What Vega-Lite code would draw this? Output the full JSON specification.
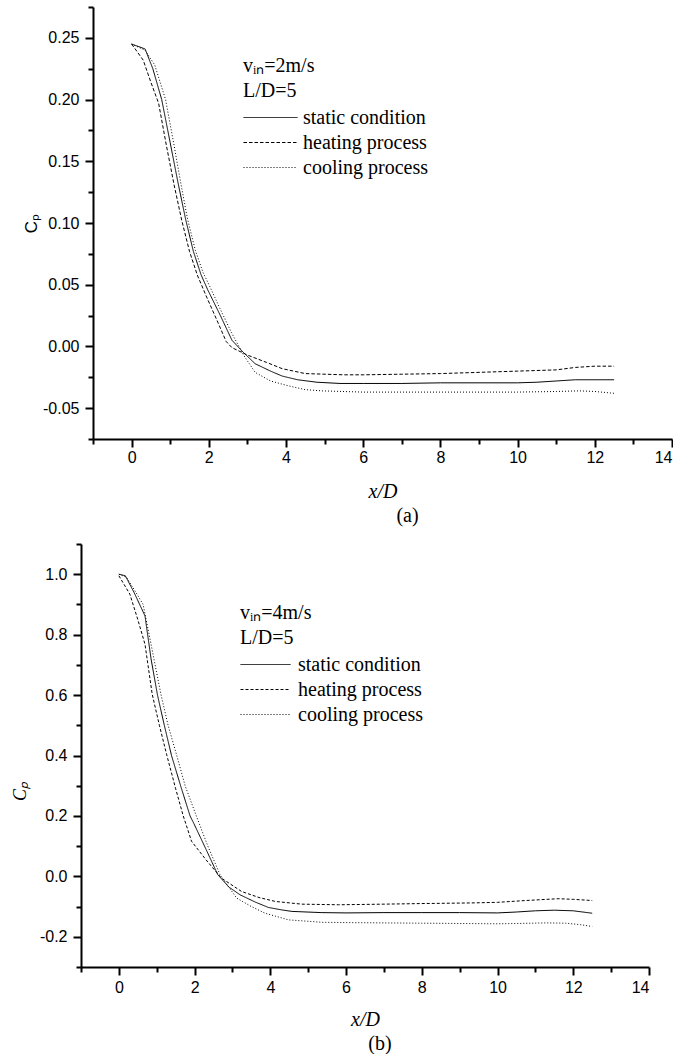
{
  "$schema": "https://vega.github.io/schema/vega-lite/v6.json",
  "padding": {"left": 0, "top": 6, "right": 0, "bottom": 0},
  "background": "white",
  "config": {
    "view": {"stroke": null},
    "locale": {"number": {"decimal": ".", "thousands": ",", "grouping": [3], "currency": ["$", ""], "minus": "-"}},
    "axis": {"grid": false, "domainColor": "black", "tickColor": "black", "labelColor": "black", "titleColor": "black", "domainWidth": 2, "tickWidth": 2, "labelFont": "Liberation Sans", "labelFontSize": 16, "titleFontWeight": "normal"},
    "title": {"font": "Liberation Serif", "fontSize": 20, "fontWeight": "normal", "color": "black"}
  },
  "datasets": {
    "a": [
      {"x": 0, "cp": 0.245, "series": "static condition"},
      {"x": 0.35, "cp": 0.241, "series": "static condition"},
      {"x": 0.55, "cp": 0.225, "series": "static condition"},
      {"x": 0.78, "cp": 0.2, "series": "static condition"},
      {"x": 1.0, "cp": 0.165, "series": "static condition"},
      {"x": 1.2, "cp": 0.133, "series": "static condition"},
      {"x": 1.4, "cp": 0.103, "series": "static condition"},
      {"x": 1.6, "cp": 0.077, "series": "static condition"},
      {"x": 1.8, "cp": 0.058, "series": "static condition"},
      {"x": 1.97, "cp": 0.046, "series": "static condition"},
      {"x": 2.3, "cp": 0.025, "series": "static condition"},
      {"x": 2.6, "cp": 0.005, "series": "static condition"},
      {"x": 2.9, "cp": -0.005, "series": "static condition"},
      {"x": 3.2, "cp": -0.014, "series": "static condition"},
      {"x": 3.6, "cp": -0.02, "series": "static condition"},
      {"x": 3.9, "cp": -0.024, "series": "static condition"},
      {"x": 4.3, "cp": -0.027, "series": "static condition"},
      {"x": 4.8, "cp": -0.029, "series": "static condition"},
      {"x": 5.4, "cp": -0.03, "series": "static condition"},
      {"x": 6, "cp": -0.03, "series": "static condition"},
      {"x": 7, "cp": -0.03, "series": "static condition"},
      {"x": 8, "cp": -0.0295, "series": "static condition"},
      {"x": 9, "cp": -0.0295, "series": "static condition"},
      {"x": 10, "cp": -0.0295, "series": "static condition"},
      {"x": 10.5, "cp": -0.029, "series": "static condition"},
      {"x": 11, "cp": -0.028, "series": "static condition"},
      {"x": 11.5, "cp": -0.027, "series": "static condition"},
      {"x": 12, "cp": -0.027, "series": "static condition"},
      {"x": 12.5, "cp": -0.027, "series": "static condition"},
      {"x": 0, "cp": 0.245, "series": "heating process"},
      {"x": 0.3, "cp": 0.232, "series": "heating process"},
      {"x": 0.5, "cp": 0.214, "series": "heating process"},
      {"x": 0.7, "cp": 0.197, "series": "heating process"},
      {"x": 0.9, "cp": 0.163, "series": "heating process"},
      {"x": 1.1, "cp": 0.131, "series": "heating process"},
      {"x": 1.3, "cp": 0.102, "series": "heating process"},
      {"x": 1.5, "cp": 0.077, "series": "heating process"},
      {"x": 1.7, "cp": 0.058, "series": "heating process"},
      {"x": 1.93, "cp": 0.041, "series": "heating process"},
      {"x": 2.2, "cp": 0.022, "series": "heating process"},
      {"x": 2.45, "cp": 0.004, "series": "heating process"},
      {"x": 2.6, "cp": -0.001, "series": "heating process"},
      {"x": 3.0, "cp": -0.007, "series": "heating process"},
      {"x": 3.5, "cp": -0.013, "series": "heating process"},
      {"x": 3.9, "cp": -0.018, "series": "heating process"},
      {"x": 4.5, "cp": -0.022, "series": "heating process"},
      {"x": 5.5, "cp": -0.023, "series": "heating process"},
      {"x": 6, "cp": -0.023, "series": "heating process"},
      {"x": 7, "cp": -0.0225, "series": "heating process"},
      {"x": 8, "cp": -0.022, "series": "heating process"},
      {"x": 9, "cp": -0.021, "series": "heating process"},
      {"x": 10, "cp": -0.02, "series": "heating process"},
      {"x": 11, "cp": -0.019, "series": "heating process"},
      {"x": 11.5, "cp": -0.017, "series": "heating process"},
      {"x": 12, "cp": -0.016, "series": "heating process"},
      {"x": 12.5, "cp": -0.016, "series": "heating process"},
      {"x": 0, "cp": 0.245, "series": "cooling process"},
      {"x": 0.35, "cp": 0.24, "series": "cooling process"},
      {"x": 0.6, "cp": 0.228, "series": "cooling process"},
      {"x": 0.88, "cp": 0.2, "series": "cooling process"},
      {"x": 1.1, "cp": 0.163, "series": "cooling process"},
      {"x": 1.27, "cp": 0.133, "series": "cooling process"},
      {"x": 1.45, "cp": 0.103, "series": "cooling process"},
      {"x": 1.65, "cp": 0.078, "series": "cooling process"},
      {"x": 1.85, "cp": 0.06, "series": "cooling process"},
      {"x": 2.02, "cp": 0.049, "series": "cooling process"},
      {"x": 2.3, "cp": 0.03, "series": "cooling process"},
      {"x": 2.59, "cp": 0.011, "series": "cooling process"},
      {"x": 2.9, "cp": -0.007, "series": "cooling process"},
      {"x": 3.2, "cp": -0.021, "series": "cooling process"},
      {"x": 3.6, "cp": -0.028, "series": "cooling process"},
      {"x": 4.07, "cp": -0.032, "series": "cooling process"},
      {"x": 4.5, "cp": -0.035, "series": "cooling process"},
      {"x": 4.93, "cp": -0.036, "series": "cooling process"},
      {"x": 6, "cp": -0.037, "series": "cooling process"},
      {"x": 7, "cp": -0.037, "series": "cooling process"},
      {"x": 8, "cp": -0.037, "series": "cooling process"},
      {"x": 9, "cp": -0.037, "series": "cooling process"},
      {"x": 10, "cp": -0.037, "series": "cooling process"},
      {"x": 11, "cp": -0.0365, "series": "cooling process"},
      {"x": 11.6, "cp": -0.036, "series": "cooling process"},
      {"x": 12, "cp": -0.0365, "series": "cooling process"},
      {"x": 12.5, "cp": -0.038, "series": "cooling process"}
    ],
    "b": [
      {"x": 0, "cp": 1.0, "series": "static condition"},
      {"x": 0.17, "cp": 0.995, "series": "static condition"},
      {"x": 0.4, "cp": 0.94, "series": "static condition"},
      {"x": 0.69, "cp": 0.862, "series": "static condition"},
      {"x": 0.85, "cp": 0.72, "series": "static condition"},
      {"x": 1.02, "cp": 0.6, "series": "static condition"},
      {"x": 1.2, "cp": 0.5, "series": "static condition"},
      {"x": 1.39, "cp": 0.4, "series": "static condition"},
      {"x": 1.63, "cp": 0.3, "series": "static condition"},
      {"x": 1.88, "cp": 0.2, "series": "static condition"},
      {"x": 1.98, "cp": 0.175, "series": "static condition"},
      {"x": 2.3, "cp": 0.09, "series": "static condition"},
      {"x": 2.61, "cp": 0.006, "series": "static condition"},
      {"x": 2.9, "cp": -0.035, "series": "static condition"},
      {"x": 3.2, "cp": -0.061, "series": "static condition"},
      {"x": 3.6, "cp": -0.085, "series": "static condition"},
      {"x": 3.95, "cp": -0.103, "series": "static condition"},
      {"x": 4.3, "cp": -0.111, "series": "static condition"},
      {"x": 4.57, "cp": -0.116, "series": "static condition"},
      {"x": 5.36, "cp": -0.12, "series": "static condition"},
      {"x": 6, "cp": -0.121, "series": "static condition"},
      {"x": 7, "cp": -0.12, "series": "static condition"},
      {"x": 8, "cp": -0.12, "series": "static condition"},
      {"x": 9, "cp": -0.12, "series": "static condition"},
      {"x": 10, "cp": -0.121, "series": "static condition"},
      {"x": 10.5, "cp": -0.118, "series": "static condition"},
      {"x": 11, "cp": -0.114, "series": "static condition"},
      {"x": 11.5, "cp": -0.112, "series": "static condition"},
      {"x": 12, "cp": -0.114, "series": "static condition"},
      {"x": 12.5, "cp": -0.122, "series": "static condition"},
      {"x": 0, "cp": 0.995, "series": "heating process"},
      {"x": 0.29, "cp": 0.934, "series": "heating process"},
      {"x": 0.5, "cp": 0.85, "series": "heating process"},
      {"x": 0.69, "cp": 0.768, "series": "heating process"},
      {"x": 0.88, "cp": 0.603, "series": "heating process"},
      {"x": 1.07, "cp": 0.5, "series": "heating process"},
      {"x": 1.26, "cp": 0.404, "series": "heating process"},
      {"x": 1.5, "cp": 0.29, "series": "heating process"},
      {"x": 1.7, "cp": 0.2, "series": "heating process"},
      {"x": 1.92, "cp": 0.116, "series": "heating process"},
      {"x": 2.3, "cp": 0.055, "series": "heating process"},
      {"x": 2.71, "cp": -0.006, "series": "heating process"},
      {"x": 3.24, "cp": -0.05, "series": "heating process"},
      {"x": 3.7, "cp": -0.07, "series": "heating process"},
      {"x": 4.13, "cp": -0.083, "series": "heating process"},
      {"x": 4.83, "cp": -0.092, "series": "heating process"},
      {"x": 5.8, "cp": -0.094, "series": "heating process"},
      {"x": 7, "cp": -0.092, "series": "heating process"},
      {"x": 8, "cp": -0.09, "series": "heating process"},
      {"x": 9.3, "cp": -0.088, "series": "heating process"},
      {"x": 10, "cp": -0.086, "series": "heating process"},
      {"x": 10.74, "cp": -0.08, "series": "heating process"},
      {"x": 11.6, "cp": -0.074, "series": "heating process"},
      {"x": 12, "cp": -0.076, "series": "heating process"},
      {"x": 12.5, "cp": -0.08, "series": "heating process"},
      {"x": 0, "cp": 1.0, "series": "cooling process"},
      {"x": 0.2, "cp": 0.99, "series": "cooling process"},
      {"x": 0.45, "cp": 0.94, "series": "cooling process"},
      {"x": 0.64, "cp": 0.9, "series": "cooling process"},
      {"x": 0.8, "cp": 0.8, "series": "cooling process"},
      {"x": 1.11, "cp": 0.603, "series": "cooling process"},
      {"x": 1.3, "cp": 0.5, "series": "cooling process"},
      {"x": 1.52, "cp": 0.404, "series": "cooling process"},
      {"x": 1.75, "cp": 0.3, "series": "cooling process"},
      {"x": 2.03, "cp": 0.205, "series": "cooling process"},
      {"x": 2.35, "cp": 0.1, "series": "cooling process"},
      {"x": 2.67, "cp": 0.006, "series": "cooling process"},
      {"x": 3.11, "cp": -0.072, "series": "cooling process"},
      {"x": 3.5, "cp": -0.1, "series": "cooling process"},
      {"x": 3.86, "cp": -0.122, "series": "cooling process"},
      {"x": 4.48, "cp": -0.144, "series": "cooling process"},
      {"x": 5.36, "cp": -0.152, "series": "cooling process"},
      {"x": 6, "cp": -0.153, "series": "cooling process"},
      {"x": 7, "cp": -0.154, "series": "cooling process"},
      {"x": 8, "cp": -0.155, "series": "cooling process"},
      {"x": 9, "cp": -0.156, "series": "cooling process"},
      {"x": 10, "cp": -0.157, "series": "cooling process"},
      {"x": 10.5, "cp": -0.156, "series": "cooling process"},
      {"x": 11.3, "cp": -0.154, "series": "cooling process"},
      {"x": 11.8, "cp": -0.155, "series": "cooling process"},
      {"x": 12.2, "cp": -0.16, "series": "cooling process"},
      {"x": 12.5, "cp": -0.166, "series": "cooling process"}
    ]
  },
  "spacing": 17,
  "resolve": {"scale": {"strokeDash": "independent"}, "legend": {"strokeDash": "independent"}},
  "vconcat": [
    {"spacing": 0, "hconcat": [
    {"width": 22, "height": 1, "data": {"values": []}, "mark": {"type": "point"}},
    {
      "width": 579,
      "height": 432,
      "title": {"text": "(a)", "orient": "bottom", "dx": 25, "offset": 5},
      "layer": [
        {
          "data": {"name": "a"},
          "mark": {"type": "line", "color": "black", "strokeWidth": 1},
          "encoding": {
            "x": {"field": "x", "type": "quantitative", "scale": {"domain": [-1, 14], "nice": false, "zero": false},
              "axis": {"orient": "bottom", "values": [0, 2, 4, 6, 8, 10, 12, 14], "format": "d", "tickSize": 8, "labelPadding": 2, "title": "x/D", "titleFont": "Liberation Serif", "titleFontStyle": "italic", "titleFontSize": 20, "titlePadding": 16}},
            "y": {"field": "cp", "type": "quantitative", "scale": {"domain": [-0.075, 0.275], "nice": false, "zero": false},
              "axis": {"orient": "left", "values": [-0.05, 0, 0.05, 0.1, 0.15, 0.2, 0.25], "format": ".2f", "tickSize": 8, "labelPadding": 6, "title": "Cₚ", "titleFont": "Liberation Sans", "titleFontSize": 17, "titlePadding": 2}},
            "strokeDash": {"field": "series", "type": "nominal",
              "scale": {"domain": ["static condition", "heating process", "cooling process"], "range": [[1, 0], [3.5, 2], [1, 2]]},
              "legend": {"orient": "none", "legendX": 243, "legendY": 49, "padding": 0,
                "title": ["vᵢₙ=2m/s", "L/D=5"], "titleFont": "Liberation Serif", "titleFontSize": 20, "titleFontWeight": "normal", "titleColor": "black", "titleLineHeight": 25, "titlePadding": 6, "titleLimit": 400,
                "labelFont": "Liberation Serif", "labelFontSize": 20, "labelColor": "black", "labelOffset": 39, "labelLimit": 400,
                "symbolType": "M-1,0H4.4", "symbolSize": 400, "symbolStrokeWidth": 1, "symbolStrokeColor": "black", "rowPadding": 4}}
          }
        },
        {
          "data": {"name": "a"},
          "mark": {"type": "line", "opacity": 0},
          "encoding": {
            "x": {"field": "x", "type": "quantitative", "axis": {"orient": "bottom", "values": [-1, 1, 3, 5, 7, 9, 11, 13], "labels": false, "domain": false, "tickSize": 5, "title": null}},
            "y": {"field": "cp", "type": "quantitative", "axis": {"orient": "left", "values": [-0.075, -0.025, 0.025, 0.075, 0.125, 0.175, 0.225, 0.275], "labels": false, "domain": false, "tickSize": 5, "title": null}},
            "detail": {"field": "series"}
          }
        }
      ],
      "resolve": {"axis": {"x": "independent", "y": "independent"}}
    }]},
    {"spacing": 0, "hconcat": [
    {"width": 11, "height": 1, "data": {"values": []}, "mark": {"type": "point"}},
    {
      "width": 568,
      "height": 423,
      "title": {"text": "(b)", "orient": "bottom", "dx": 15, "offset": 5},
      "layer": [
        {
          "data": {"name": "b"},
          "mark": {"type": "line", "color": "black", "strokeWidth": 1},
          "encoding": {
            "x": {"field": "x", "type": "quantitative", "scale": {"domain": [-1, 14], "nice": false, "zero": false},
              "axis": {"orient": "bottom", "values": [0, 2, 4, 6, 8, 10, 12, 14], "format": "d", "tickSize": 8, "labelPadding": 4, "title": "x/D", "titleFont": "Liberation Serif", "titleFontStyle": "italic", "titleFontSize": 20, "titlePadding": 14}},
            "y": {"field": "cp", "type": "quantitative", "scale": {"domain": [-0.3, 1.1], "nice": false, "zero": false},
              "axis": {"orient": "left", "values": [-0.2, 0, 0.2, 0.4, 0.6, 0.8, 1.0], "format": ".1f", "tickSize": 8, "labelPadding": 6, "title": "Cₚ", "titleFont": "Liberation Serif", "titleFontStyle": "italic", "titleFontSize": 18, "titlePadding": 10, "titleY": 247}},
            "strokeDash": {"field": "series", "type": "nominal",
              "scale": {"domain": ["static condition", "heating process", "cooling process"], "range": [[1, 0], [3, 2], [1, 2]]},
              "legend": {"orient": "none", "legendX": 240, "legendY": 59, "padding": 0,
                "title": ["vᵢₙ=4m/s", "L/D=5"], "titleFont": "Liberation Serif", "titleFontSize": 20, "titleFontWeight": "normal", "titleColor": "black", "titleLineHeight": 25, "titlePadding": 6, "titleLimit": 400,
                "labelFont": "Liberation Serif", "labelFontSize": 20, "labelColor": "black", "labelOffset": 37, "labelLimit": 400,
                "symbolType": "M-1,0H4", "symbolSize": 400, "symbolStrokeWidth": 1, "symbolStrokeColor": "black", "rowPadding": 4}}
          }
        },
        {
          "data": {"name": "b"},
          "mark": {"type": "line", "opacity": 0},
          "encoding": {
            "x": {"field": "x", "type": "quantitative", "axis": {"orient": "bottom", "values": [-1, 1, 3, 5, 7, 9, 11, 13], "labels": false, "domain": false, "tickSize": 5, "title": null}},
            "y": {"field": "cp", "type": "quantitative", "axis": {"orient": "left", "values": [-0.3, -0.1, 0.1, 0.3, 0.5, 0.7, 0.9, 1.1], "labels": false, "domain": false, "tickSize": 5, "title": null}},
            "detail": {"field": "series"}
          }
        }
      ],
      "resolve": {"axis": {"x": "independent", "y": "independent"}}
    }]}
  ]
}
